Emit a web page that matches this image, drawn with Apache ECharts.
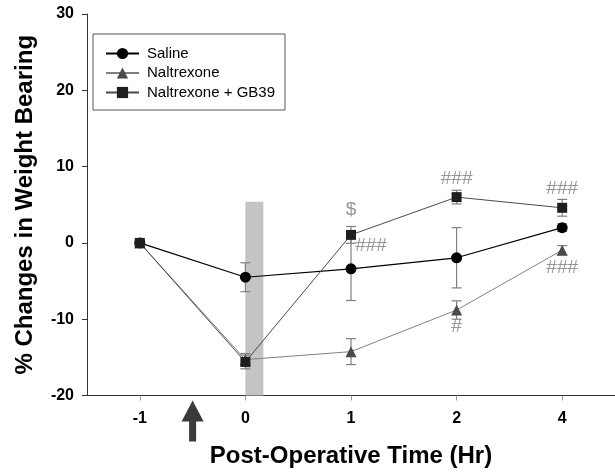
<!DOCTYPE html>
<html><head><meta charset="utf-8">
<script src="https://cdn.jsdelivr.net/npm/echarts@6/dist/echarts.min.js"></script>
<style>html,body{margin:0;padding:0;background:#fff}#c{width:615px;height:474px}</style>
</head><body><div id="c"></div>
<script>
const categories = ['-1', '0', '1', '2', '4'];
const salineMean = [0, -4.5, -3.4, -1.95, 2.0];
const salineErr = [0, 1.9, 4.15, 3.95, 0.5];
const naltMean = [0, -15.3, -14.25, -8.8, -0.95];
const naltErr = [0, 0.8, 1.7, 1.2, 0.6];
const gbMean = [0, -15.6, 1.05, 6.0, 4.6];
const gbErr = [0.3, 0.9, 1.1, 0.9, 1.1];
const yTicks = [-20, -10, 0, 10, 20, 30];
const annotations = [
  { x: 2, y: 4.3, text: '$' },
  { x: 2.19, y: -0.4, text: '###' },
  { x: 3, y: 8.4, text: '###' },
  { x: 4, y: 7.1, text: '###' },
  { x: 4, y: -3.2, text: '###' },
  { x: 3, y: -11.0, text: '#' }
];
const band = { x0: 1, x1: 1.17, y0: -20, y1: 5.4 };
const arrowAt = 0.5;

const FONT = '"Liberation Sans", Arial, sans-serif';
const pts = arr => arr.map((v, i) => [i, v]);
const errData = (m, e) => m.map((v, i) => [i, v - e[i], v + e[i]]);

function errSeries(m, e, z) {
  return {
    type: 'custom', z: z, silent: true,
    data: errData(m, e),
    renderItem: function (params, api) {
      const x = api.value(0);
      const lo = api.coord([x, api.value(1)]);
      const hi = api.coord([x, api.value(2)]);
      const w = 5;
      const st = { stroke: '#808080', lineWidth: 1.2 };
      return { type: 'group', children: [
        { type: 'line', shape: { x1: lo[0], y1: lo[1], x2: hi[0], y2: hi[1] }, style: st },
        { type: 'line', shape: { x1: lo[0] - w, y1: lo[1], x2: lo[0] + w, y2: lo[1] }, style: st },
        { type: 'line', shape: { x1: hi[0] - w, y1: hi[1], x2: hi[0] + w, y2: hi[1] }, style: st }
      ]};
    }
  };
}

const chart = echarts.init(document.getElementById('c'), null, { renderer: 'canvas' });
const option = {
  animation: false,
  grid: { left: 87, top: 14, width: 531, height: 381.5, containLabel: false },
  xAxis: {
    type: 'value', min: -0.5, max: 4.5,
    name: 'Post-Operative Time (Hr)', nameLocation: 'middle', nameGap: 49,
    nameTextStyle: { fontFamily: FONT, fontWeight: 'bold', fontSize: 24, color: '#000' },
    axisLine: { onZero: false, lineStyle: { color: '#333', width: 1 } },
    axisTick: { show: true, length: 5, lineStyle: { color: '#999' }, customValues: [0, 1, 2, 3, 4] },
    axisLabel: { customValues: [0, 1, 2, 3, 4], formatter: v => categories[Math.round(v)], margin: 15,
      fontFamily: FONT, fontWeight: 'bold', fontSize: 16, color: '#000' },
    splitLine: { show: false }
  },
  yAxis: {
    type: 'value', min: yTicks[0], max: yTicks[yTicks.length - 1], interval: 10,
    name: '% Changes in Weight Bearing', nameLocation: 'middle', nameGap: 50,
    nameTextStyle: { fontFamily: FONT, fontWeight: 'bold', fontSize: 24, color: '#000' },
    axisLine: { show: true, onZero: false, lineStyle: { color: '#333', width: 1 } },
    axisTick: { show: true, length: 5, lineStyle: { color: '#333' } },
    axisLabel: { margin: 13, fontFamily: FONT, fontWeight: 'bold', fontSize: 16, color: '#000' },
    splitLine: { show: false }
  },
  legend: {
    orient: 'vertical', left: 93, top: 34,
    padding: [12, 10, 10, 12], itemWidth: 33, itemHeight: 14, itemGap: 4.5,
    borderColor: '#555', borderWidth: 1,
    textStyle: { fontFamily: FONT, fontSize: 15, color: '#000', padding: [0, 0, 0, 3] },
    data: ['Saline', 'Naltrexone', 'Naltrexone + GB39']
  },
  series: [
    { type: 'line', name: '_band', data: [], silent: true, z: 0,
      markArea: { silent: true, itemStyle: { color: '#c4c4c4' },
        data: [[{ xAxis: band.x0, yAxis: band.y0 }, { xAxis: band.x1, yAxis: band.y1 }]] } },
    errSeries(salineMean, salineErr, 1),
    errSeries(naltMean, naltErr, 1),
    errSeries(gbMean, gbErr, 1),
    { type: 'line', name: 'Saline', data: pts(salineMean), z: 3,
      symbol: 'circle', symbolSize: 11,
      lineStyle: { color: '#000', width: 1.2 }, itemStyle: { color: '#000' } },
    { type: 'line', name: 'Naltrexone', data: pts(naltMean), z: 3,
      symbol: 'triangle', symbolSize: 11,
      lineStyle: { color: '#808080', width: 1 }, itemStyle: { color: '#4a4a4a' } },
    { type: 'line', name: 'Naltrexone + GB39', data: pts(gbMean), z: 4,
      symbol: 'rect', symbolSize: 10,
      lineStyle: { color: '#4a4a4a', width: 1 }, itemStyle: { color: '#1e1e1e' } },
    { type: 'scatter', name: '_ann', z: 5, silent: true, symbolSize: 0,
      data: annotations.map(a => ({ value: [a.x, a.y], label: { formatter: a.text } })),
      label: { show: true, position: 'inside', fontFamily: FONT, fontSize: 19, color: '#7a7a7a' } }
  ]
};
chart.setOption(option);

// arrow below x axis
const p = chart.convertToPixel({ gridIndex: 0 }, [arrowAt, -20]);
const ax = p[0], ay = p[1];
chart.setOption({ graphic: [{
  type: 'polygon', silent: true,
  shape: { points: [[ax, ay + 5], [ax + 11, ay + 26], [ax + 3.5, ay + 26], [ax + 3.5, ay + 46],
                    [ax - 3.5, ay + 46], [ax - 3.5, ay + 26], [ax - 11, ay + 26]] },
  style: { fill: '#3a3a3a' }
}] });
</script></body></html>
